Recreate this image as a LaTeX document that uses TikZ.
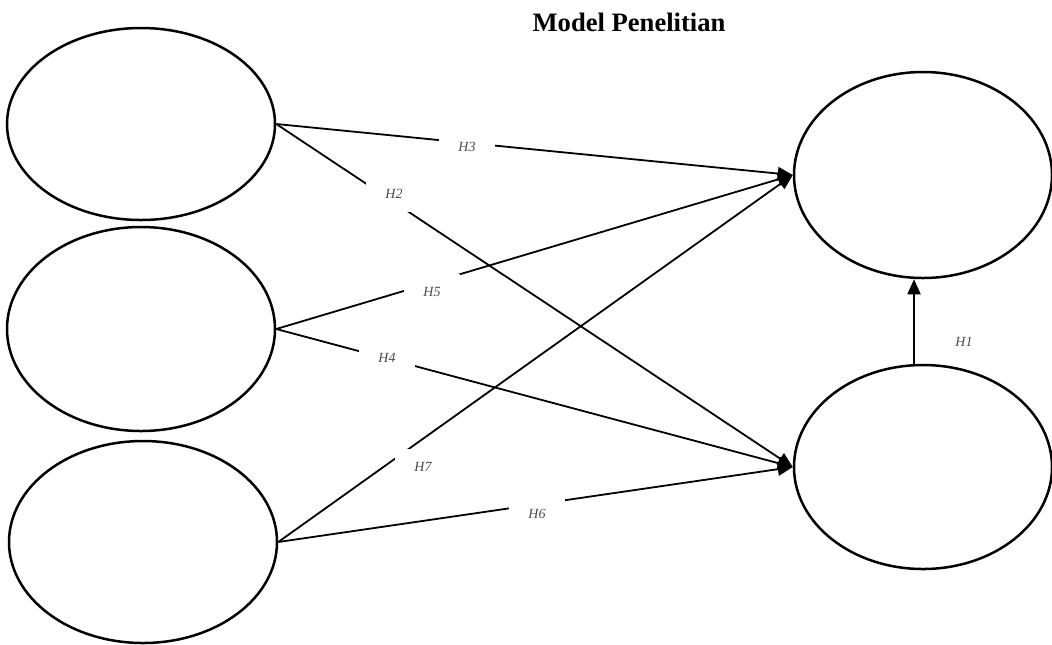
\documentclass[tikz,border=0pt]{standalone}
\usepackage{fontspec}
\setmainfont{Liberation Serif}
\usepackage{tikz}
\usetikzlibrary{shapes.geometric, arrows.meta, positioning, calc}

\begin{document}
\begin{tikzpicture}[x=0.5pt, y=-0.5pt,
    varbox/.style={draw, ellipse, line width=1.25pt, minimum width=134pt, inner sep=0pt},
    arr/.style={line width=0.9pt, -{Triangle[length=7.5pt, width=6.5pt]}},
    hyp/.style={fill=white, inner sep=1pt, minimum width=28pt, minimum height=18pt, text=black!70, font=\fontsize{7}{8}\selectfont\itshape}]
  \useasboundingbox (0,0) rectangle (1052,644);

  % Title
  \node[font=\fontsize{13.3}{16}\selectfont\bfseries] (title) at (629, 22) {Model Penelitian};

  % Independent variables
  \node[varbox, minimum height=96pt] (xa) at (141, 124) {};
  \node[varbox, minimum height=102pt] (xb) at (141, 329) {};
  \node[varbox, minimum height=101pt] (xc) at (143, 542) {};

  % Intervening and dependent variables
  \node[varbox, minimum width=129pt, minimum height=103pt] (ya) at (923, 175) {};
  \node[varbox, minimum width=129pt, minimum height=102pt] (yb) at (923, 467) {};

  % Paths
  \draw[arr] (xa.east) -- (ya.west);
  \draw[arr] (xa.east) -- (yb.west);
  \draw[arr] (xb.east) -- (ya.west);
  \draw[arr] (xb.east) -- (yb.west);
  \draw[arr] (xc.east) -- (ya.west);
  \draw[arr] (xc.east) -- (yb.west);
  \draw[arr] ([xshift=-4.5pt]yb.north) -- ([xshift=-4.5pt]ya.south);

  % Hypothesis labels
  \node[hyp] (h3) at (467, 147) {H3};
  \node[hyp] (h2) at (394, 194) {H2};
  \node[hyp] (h5) at (432, 292) {H5};
  \node[hyp] (h4) at (387, 358) {H4};
  \node[hyp] (h7) at (423, 467) {H7};
  \node[hyp] (h6) at (537, 514) {H6};
  \node[hyp] (h1) at (964, 342) {H1};
\end{tikzpicture}
\end{document}
